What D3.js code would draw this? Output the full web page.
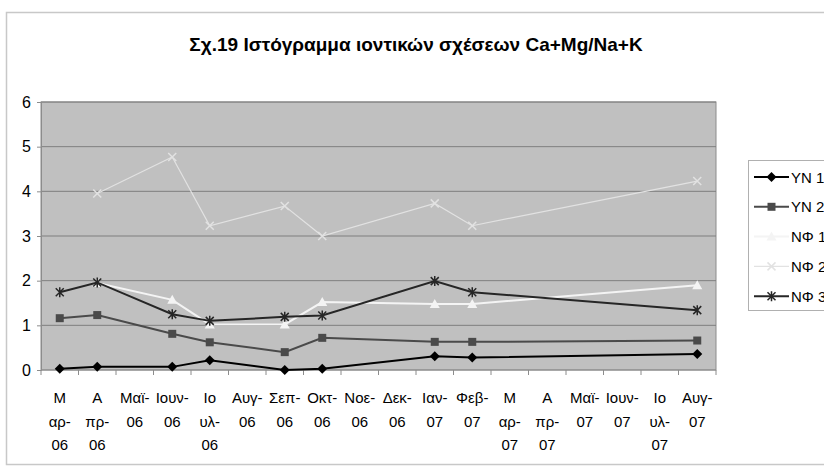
<!DOCTYPE html>
<html lang="el">
<head>
    <meta charset="UTF-8">
    <title>Σχ.19</title>
    <script src="https://cdn.jsdelivr.net/npm/d3@7"></script>
    <style>
        body { margin: 0; background: #fff; }
        svg text { font-family: "Liberation Sans", Arial, sans-serif; }
    </style>
</head>
<body>
    <svg width="824" height="470"></svg>

    <script>
        // categories, each one split in the lines Excel wrapped it into
        var months = [
            ["Μ", "αρ-", "06"], ["Α", "πρ-", "06"], ["Μαϊ-", "06"], ["Ιουν-", "06"],
            ["Ιο", "υλ-", "06"], ["Αυγ-", "06"], ["Σεπ-", "06"], ["Οκτ-", "06"],
            ["Νοε-", "06"], ["Δεκ-", "06"], ["Ιαν-", "07"], ["Φεβ-", "07"],
            ["Μ", "αρ-", "07"], ["Α", "πρ-", "07"], ["Μαϊ-", "07"], ["Ιουν-", "07"],
            ["Ιο", "υλ-", "07"], ["Αυγ-", "07"]
        ];
        var yTicks = [0, 1, 2, 3, 4, 5, 6];

        var yn1 = [0.03, 0.07, null, 0.07, 0.22, null, 0.0, 0.03, null, null, 0.31, 0.28, null, null, null, null, null, 0.36];
        var yn2 = [1.16, 1.23, null, 0.81, 0.62, null, 0.40, 0.72, null, null, 0.63, 0.63, null, null, null, null, null, 0.66];
        var nf1 = [null, 1.95, null, 1.57, 1.02, null, 1.02, 1.52, null, null, 1.48, 1.48, null, null, null, null, null, 1.90];
        var nf2 = [null, 3.95, null, 4.77, 3.23, null, 3.67, 3.0, null, null, 3.73, 3.23, null, null, null, null, null, 4.23];
        var nf3 = [1.74, 1.96, null, 1.25, 1.10, null, 1.19, 1.22, null, null, 1.99, 1.74, null, null, null, null, null, 1.34];

        var series = [
            { name: "ΥΝ 1", values: yn1, color: "#000000", marker: "diamond" },
            { name: "ΥΝ 2", values: yn2, color: "#4a4a4a", marker: "square" },
            { name: "ΝΦ 1", values: nf1, color: "#f4f4f4", marker: "triangle" },
            { name: "ΝΦ 2", values: nf2, color: "#e2e2e2", marker: "cross" },
            { name: "ΝΦ 3", values: nf3, color: "#262626", marker: "star" }
        ];

        var svg = d3.select("svg");
        var m = { left: 41, top: 102, right: 716, bottom: 370 };

        // chart frame
        svg.append("rect")
            .attr("x", 6.5).attr("y", 12.5)
            .attr("width", 830).attr("height", 452)
            .attr("fill", "#fff")
            .attr("stroke", "#c8c8c8").attr("stroke-width", 1.5);

        svg.append("text")
            .attr("x", 416).attr("y", 51)
            .attr("text-anchor", "middle")
            .attr("font-size", 19).attr("font-weight", "bold")
            .text("Σχ.19 Ιστόγραμμα ιοντικών σχέσεων Ca+Mg/Na+K");

        var x = d3.scaleBand()
            .domain(d3.range(months.length))
            .range([m.left, m.right]);
        var y = d3.scaleLinear().domain([0, 6]).range([m.bottom, m.top]);

        // plot area
        svg.append("rect")
            .attr("x", m.left).attr("y", m.top)
            .attr("width", m.right - m.left).attr("height", m.bottom - m.top)
            .attr("fill", "#c0c0c0")
            .attr("stroke", "#8c8c8c").attr("stroke-width", 1);

        svg.append("g").selectAll("line")
            .data(yTicks.slice(1))
            .join("line")
            .attr("x1", m.left).attr("x2", m.right)
            .attr("y1", d => y(d)).attr("y2", d => y(d))
            .attr("stroke", "#7f7f7f").attr("stroke-width", 1);

        // y axis
        var yAxis = svg.append("g")
            .attr("transform", "translate(" + m.left + ",0)")
            .call(d3.axisLeft(y).tickValues(yTicks).tickSize(4).tickPadding(6).tickFormat(d3.format("d")));
        yAxis.select(".domain").attr("stroke", "#8c8c8c");
        yAxis.selectAll(".tick line").attr("stroke", "#8c8c8c");
        yAxis.selectAll("text").attr("font-size", 16).attr("fill", "#000")
            .attr("font-family", "'Liberation Sans', Arial, sans-serif");

        // x axis: ticks between categories
        var bounds = d3.range(months.length + 1).map(i => m.left + i * x.step());
        svg.append("line")
            .attr("x1", m.left).attr("x2", m.right)
            .attr("y1", m.bottom).attr("y2", m.bottom)
            .attr("stroke", "#8c8c8c");
        svg.append("g").selectAll("line")
            .data(bounds)
            .join("line")
            .attr("x1", d => d).attr("x2", d => d)
            .attr("y1", m.bottom).attr("y2", m.bottom + 5)
            .attr("stroke", "#8c8c8c");

        var lab = svg.append("g").selectAll("text")
            .data(months)
            .join("text")
            .attr("x", (d, i) => x(i) + x.bandwidth() / 2)
            .attr("y", 403)
            .attr("text-anchor", "middle")
            .attr("font-size", 15);
        lab.selectAll("tspan")
            .data(d => d)
            .join("tspan")
            .attr("x", function() { return this.parentNode.getAttribute("x"); })
            .attr("dy", (d, i) => i === 0 ? 0 : 23.5)
            .text(d => d);

        var line = d3.line()
            .x(d => x(d.i) + x.bandwidth() / 2)
            .y(d => y(d.v));

        function markerPath(type) {
            if (type === "diamond") return "M0,-5L5,0L0,5L-5,0Z";
            if (type === "square") return "M-4,-4H4V4H-4Z";
            if (type === "triangle") return "M0,-5L5,4H-5Z";
            if (type === "cross") return "M-4,-4L4,4M4,-4L-4,4";
            return "M-4,-4L4,4M4,-4L-4,4M0,-5V5";
        }

        function drawMarker(g, type, color) {
            var p = g.append("path").attr("d", markerPath(type));
            if (type === "cross" || type === "star") {
                p.attr("fill", "none").attr("stroke", color).attr("stroke-width", 1.5);
            } else {
                p.attr("fill", color).attr("stroke", "none");
            }
        }

        series.forEach(s => {
            var pts = s.values.map((v, i) => ({ i: i, v: v })).filter(d => d.v !== null);
            svg.append("path")
                .datum(pts)
                .attr("d", line)
                .attr("fill", "none")
                .attr("stroke", s.color)
                .attr("stroke-width", s.marker === "cross" ? 1.2 : 2);
            pts.forEach(d => {
                var g = svg.append("g")
                    .attr("transform", "translate(" + (x(d.i) + x.bandwidth() / 2) + "," + y(d.v) + ")");
                drawMarker(g, s.marker, s.color);
            });
        });

        // legend
        var leg = svg.append("g");
        leg.append("rect")
            .attr("x", 748.5).attr("y", 160.5)
            .attr("width", 100).attr("height", 150)
            .attr("fill", "#fff")
            .attr("stroke", "#b0b0b0");
        series.forEach((s, i) => {
            var ly = 177 + i * 29.8;
            leg.append("line")
                .attr("x1", 754).attr("x2", 789)
                .attr("y1", ly).attr("y2", ly)
                .attr("stroke", s.color)
                .attr("stroke-width", s.marker === "cross" ? 1.2 : 2);
            var g = leg.append("g").attr("transform", "translate(771.5," + ly + ")");
            drawMarker(g, s.marker, s.color);
            leg.append("text")
                .attr("x", 791).attr("y", ly + 5.5)
                .attr("font-size", 15)
                .text(s.name);
        });
    </script>
</body>
</html>
